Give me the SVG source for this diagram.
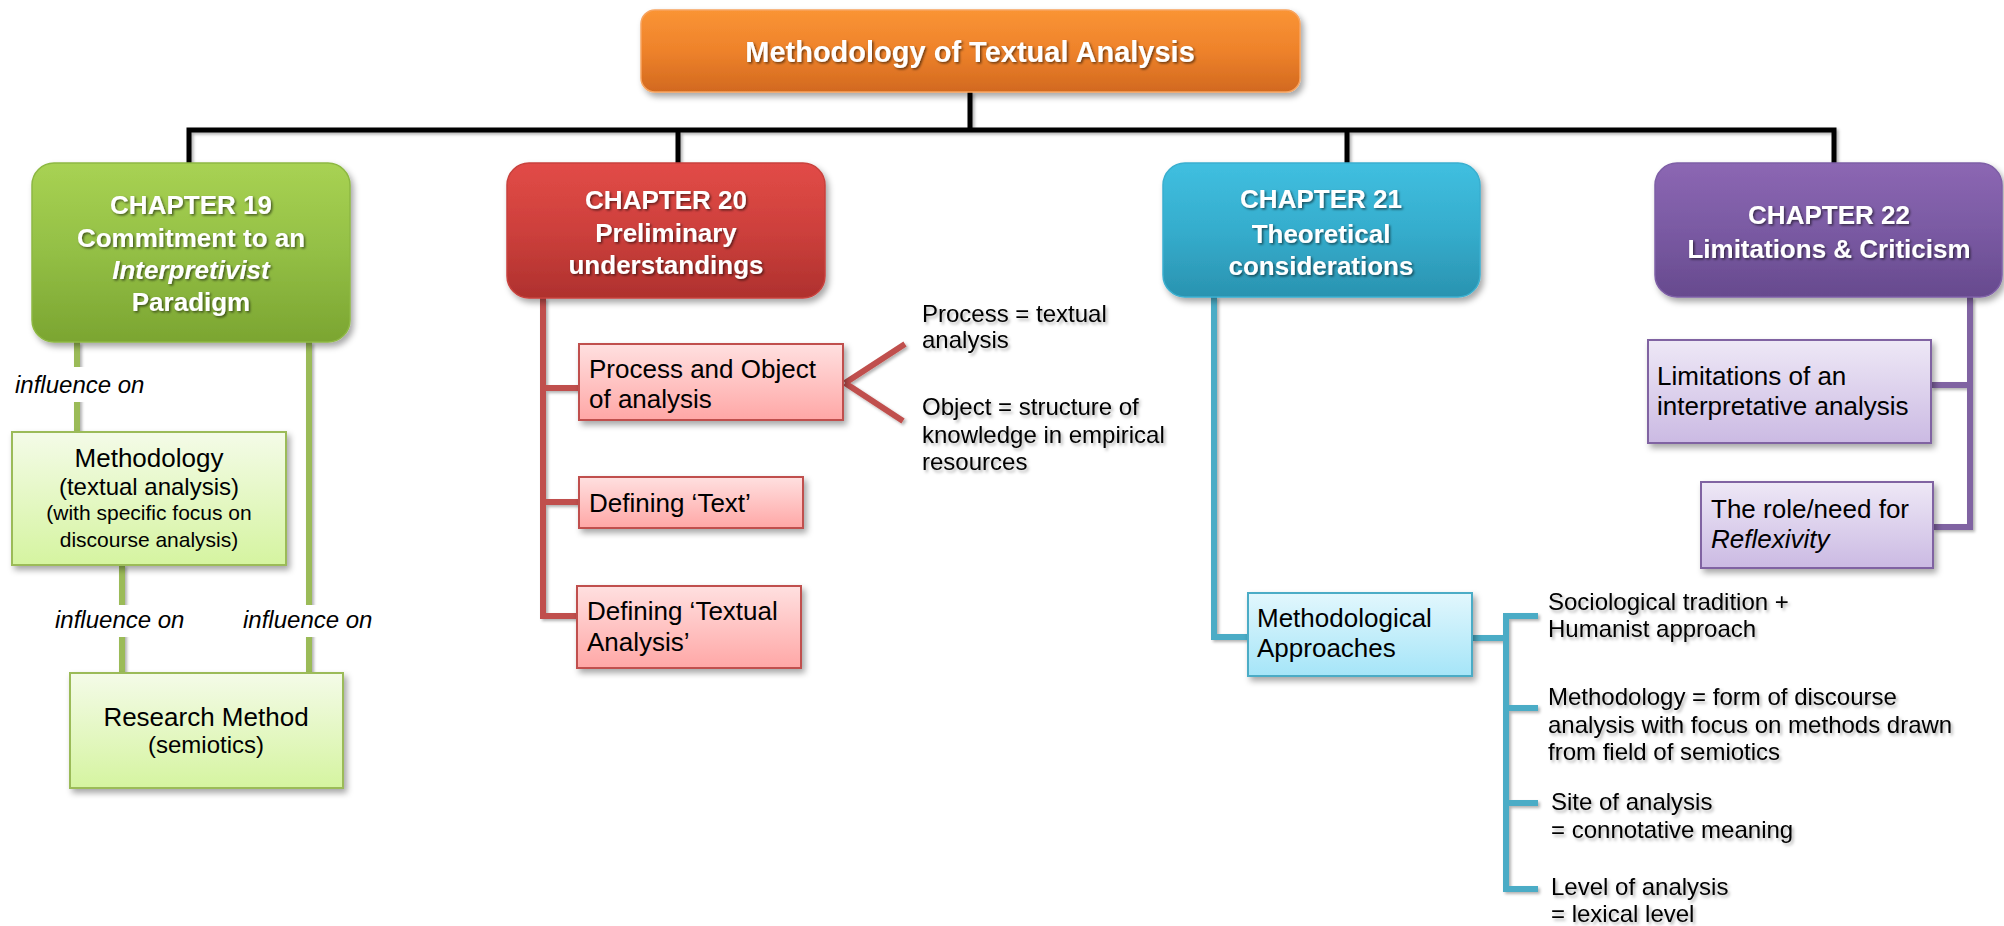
<svg xmlns="http://www.w3.org/2000/svg" width="2004" height="926" viewBox="0 0 2004 926">
  <defs>
    <!-- chapter fills -->
    <linearGradient id="gOrange" x1="0" y1="0" x2="0" y2="1">
      <stop offset="0" stop-color="#FA9434"/>
      <stop offset="0.5" stop-color="#EE822B"/>
      <stop offset="1" stop-color="#D2691F"/>
    </linearGradient>
    <linearGradient id="gGreen" x1="0" y1="0" x2="0" y2="1">
      <stop offset="0" stop-color="#A8D253"/>
      <stop offset="0.5" stop-color="#93BF45"/>
      <stop offset="1" stop-color="#7BA531"/>
    </linearGradient>
    <linearGradient id="gRed" x1="0" y1="0" x2="0" y2="1">
      <stop offset="0" stop-color="#E24B47"/>
      <stop offset="0.5" stop-color="#CD403C"/>
      <stop offset="1" stop-color="#AF312E"/>
    </linearGradient>
    <linearGradient id="gBlue" x1="0" y1="0" x2="0" y2="1">
      <stop offset="0" stop-color="#40BFE0"/>
      <stop offset="0.5" stop-color="#35ADCD"/>
      <stop offset="1" stop-color="#2A93B0"/>
    </linearGradient>
    <linearGradient id="gPurple" x1="0" y1="0" x2="0" y2="1">
      <stop offset="0" stop-color="#8C67B3"/>
      <stop offset="0.5" stop-color="#7A5AA3"/>
      <stop offset="1" stop-color="#674A8E"/>
    </linearGradient>
    <!-- topic fills -->
    <linearGradient id="lGreen" x1="0" y1="0" x2="0" y2="1">
      <stop offset="0" stop-color="#F4FBE8"/>
      <stop offset="1" stop-color="#D5F4A0"/>
    </linearGradient>
    <linearGradient id="lRed" x1="0" y1="0" x2="0" y2="1">
      <stop offset="0" stop-color="#FFE0E0"/>
      <stop offset="1" stop-color="#FFA7A6"/>
    </linearGradient>
    <linearGradient id="lBlue" x1="0" y1="0" x2="0" y2="1">
      <stop offset="0" stop-color="#E2F7FD"/>
      <stop offset="1" stop-color="#A5E5F8"/>
    </linearGradient>
    <linearGradient id="lPurple" x1="0" y1="0" x2="0" y2="1">
      <stop offset="0" stop-color="#EEE8F6"/>
      <stop offset="1" stop-color="#CBBAE3"/>
    </linearGradient>
    <filter id="boxShadow" x="-10%" y="-10%" width="125%" height="135%">
      <feDropShadow dx="3" dy="4" stdDeviation="3" flood-color="#000" flood-opacity="0.35"/>
    </filter>
    <filter id="lineShadow" x="-20%" y="-20%" width="140%" height="140%">
      <feDropShadow dx="2" dy="2" stdDeviation="1.5" flood-color="#000" flood-opacity="0.3"/>
    </filter>
    <filter id="titleShadow" x="-5%" y="-20%" width="110%" height="150%">
      <feDropShadow dx="1.5" dy="1.5" stdDeviation="1" flood-color="#000" flood-opacity="0.55"/>
    </filter>
    <filter id="textShadow" x="-5%" y="-20%" width="110%" height="150%">
      <feDropShadow dx="2" dy="2.5" stdDeviation="1.5" flood-color="#000" flood-opacity="0.3"/>
    </filter>
  </defs>
  <style>
    text { font-family: "Liberation Sans", Arial, sans-serif; }
    .ch { font-weight: bold; font-size: 26px; fill: #FFFFFF; text-anchor: middle; filter: url(#titleShadow); }
    .top { font-weight: bold; font-size: 29px; fill: #FFFFFF; text-anchor: middle; filter: url(#titleShadow); }
    .t26 { font-size: 26px; fill: #000; }
    .t24 { font-size: 24px; fill: #000; }
    .t21 { font-size: 21px; fill: #000; }
    .mid { text-anchor: middle; }
    .note { font-size: 24px; fill: #000; filter: url(#textShadow); }
    .lbl { font-size: 24px; font-style: italic; fill: #000; }
    .it { font-style: italic; }
    .blk { stroke: #000; stroke-width: 5; fill: none; }
    .lg { stroke: #9BBB59; stroke-width: 6; fill: none; }
    .lr { stroke: #C0504D; stroke-width: 6; fill: none; }
    .lb { stroke: #4BACC6; stroke-width: 6; fill: none; }
    .lp { stroke: #8064A2; stroke-width: 6; fill: none; }
    .tg { fill: url(#lGreen); stroke: #9BBB59; stroke-width: 2; filter: url(#boxShadow); }
    .tr { fill: url(#lRed); stroke: #C0504D; stroke-width: 2; filter: url(#boxShadow); }
    .tb { fill: url(#lBlue); stroke: #4BACC6; stroke-width: 2; filter: url(#boxShadow); }
    .tp { fill: url(#lPurple); stroke: #8064A2; stroke-width: 2; filter: url(#boxShadow); }
  </style>

  <rect width="2004" height="926" fill="#FFFFFF"/>

  <!-- connectors -->
  <g id="connectors">
    <g filter="url(#lineShadow)">
      <path class="blk" d="M970,92 V130 M189,163 V130 H1834 V163 M678,130 V163 M1347,130 V163"/>
      <path class="lg" d="M77,342 V432 M309,342 V673 M122,565 V673"/>
      <path class="lr" d="M543,298 V616 H577 M543,388 H579 M543,502 H579 M845,383 L905,344 M845,383 L903,421"/>
      <path class="lb" d="M1214,297 V637 H1248 M1472,638 H1506 M1538,616 H1506 V889 H1538 M1506,708 H1538 M1506,803 H1538"/>
      <path class="lp" d="M1970,297 V527 H1933 M1970,385 H1931"/>
    </g>
    <!-- labels sitting on the green lines -->
    <rect x="12" y="367" width="134" height="35" fill="#FFFFFF"/>
    <text class="lbl" x="15" y="393">influence on</text>
    <rect x="52" y="605" width="134" height="32" fill="#FFFFFF"/>
    <text class="lbl" x="55" y="628">influence on</text>
    <rect x="240" y="605" width="134" height="32" fill="#FFFFFF"/>
    <text class="lbl" x="243" y="628">influence on</text>
  </g>

  <!-- root -->
  <g id="root">
    <rect x="641" y="10" width="659" height="82" rx="14" fill="url(#gOrange)" stroke="#F7A460" stroke-width="1.5" filter="url(#boxShadow)"/>
    <text class="top" x="970" y="62">Methodology of Textual Analysis</text>
  </g>

  <!-- chapter 19 -->
  <g id="ch19">
    <rect x="32" y="163" width="318" height="179" rx="22" fill="url(#gGreen)" stroke="#8DB843" stroke-width="1.5" filter="url(#boxShadow)"/>
    <text class="ch" x="191" y="214">CHAPTER 19</text>
    <text class="ch" x="191" y="247">Commitment to an</text>
    <text class="ch it" x="191" y="279">Interpretivist</text>
    <text class="ch" x="191" y="311">Paradigm</text>
  </g>
  <g id="ch19-methodology">
    <rect class="tg" x="12" y="432" width="274" height="133"/>
    <text class="t26 mid" x="149" y="467">Methodology</text>
    <text class="t24 mid" x="149" y="495">(textual analysis)</text>
    <text class="t21 mid" x="149" y="520">(with specific focus on</text>
    <text class="t21 mid" x="149" y="547">discourse analysis)</text>
  </g>
  <g id="ch19-method">
    <rect class="tg" x="70" y="673" width="273" height="115"/>
    <text class="t26 mid" x="206" y="726">Research Method</text>
    <text class="t24 mid" x="206" y="753">(semiotics)</text>
  </g>

  <!-- chapter 20 -->
  <g id="ch20">
    <rect x="507" y="163" width="318" height="135" rx="22" fill="url(#gRed)" stroke="#C8423E" stroke-width="1.5" filter="url(#boxShadow)"/>
    <text class="ch" x="666" y="209">CHAPTER 20</text>
    <text class="ch" x="666" y="242">Preliminary</text>
    <text class="ch" x="666" y="274">understandings</text>
  </g>
  <g id="ch20-process">
    <rect class="tr" x="579" y="344" width="264" height="76"/>
    <text class="t26" x="589" y="378">Process and Object</text>
    <text class="t26" x="589" y="408">of analysis</text>
  </g>
  <g id="ch20-process-notes">
    <text class="note" x="922" y="322">Process = textual</text>
    <text class="note" x="922" y="348">analysis</text>
    <text class="note" x="922" y="415">Object = structure of</text>
    <text class="note" x="922" y="443">knowledge in empirical</text>
    <text class="note" x="922" y="470">resources</text>
  </g>
  <g id="ch20-text">
    <rect class="tr" x="579" y="477" width="224" height="51"/>
    <text class="t26" x="589" y="512">Defining ‘Text’</text>
  </g>
  <g id="ch20-textual">
    <rect class="tr" x="577" y="586" width="224" height="82"/>
    <text class="t26" x="587" y="620">Defining ‘Textual</text>
    <text class="t26" x="587" y="651">Analysis’</text>
  </g>

  <!-- chapter 21 -->
  <g id="ch21">
    <rect x="1163" y="163" width="317" height="134" rx="22" fill="url(#gBlue)" stroke="#3AAFCF" stroke-width="1.5" filter="url(#boxShadow)"/>
    <text class="ch" x="1321" y="208">CHAPTER 21</text>
    <text class="ch" x="1321" y="243">Theoretical</text>
    <text class="ch" x="1321" y="275">considerations</text>
  </g>
  <g id="ch21-approaches">
    <rect class="tb" x="1248" y="593" width="224" height="83"/>
    <text class="t26" x="1257" y="627">Methodological</text>
    <text class="t26" x="1257" y="657">Approaches</text>
  </g>
  <g id="ch21-approach-notes">
    <text class="note" x="1548" y="610">Sociological tradition +</text>
    <text class="note" x="1548" y="637">Humanist approach</text>
    <text class="note" x="1548" y="705">Methodology = form of discourse</text>
    <text class="note" x="1548" y="733">analysis with focus on methods drawn</text>
    <text class="note" x="1548" y="760">from field of semiotics</text>
    <text class="note" x="1551" y="810">Site of analysis</text>
    <text class="note" x="1551" y="838">= connotative meaning</text>
    <text class="note" x="1551" y="895">Level of analysis</text>
    <text class="note" x="1551" y="922">= lexical level</text>
  </g>

  <!-- chapter 22 -->
  <g id="ch22">
    <rect x="1655" y="163" width="347" height="134" rx="22" fill="url(#gPurple)" stroke="#7E5FA6" stroke-width="1.5" filter="url(#boxShadow)"/>
    <text class="ch" x="1829" y="224">CHAPTER 22</text>
    <text class="ch" x="1829" y="258">Limitations &amp; Criticism</text>
  </g>
  <g id="ch22-limitations">
    <rect class="tp" x="1648" y="340" width="283" height="103"/>
    <text class="t26" x="1657" y="385">Limitations of an</text>
    <text class="t26" x="1657" y="415">interpretative analysis</text>
  </g>
  <g id="ch22-reflexivity">
    <rect class="tp" x="1701" y="482" width="232" height="86"/>
    <text class="t26" x="1711" y="518">The role/need for</text>
    <text class="t26 it" x="1711" y="548">Reflexivity</text>
  </g>
</svg>
